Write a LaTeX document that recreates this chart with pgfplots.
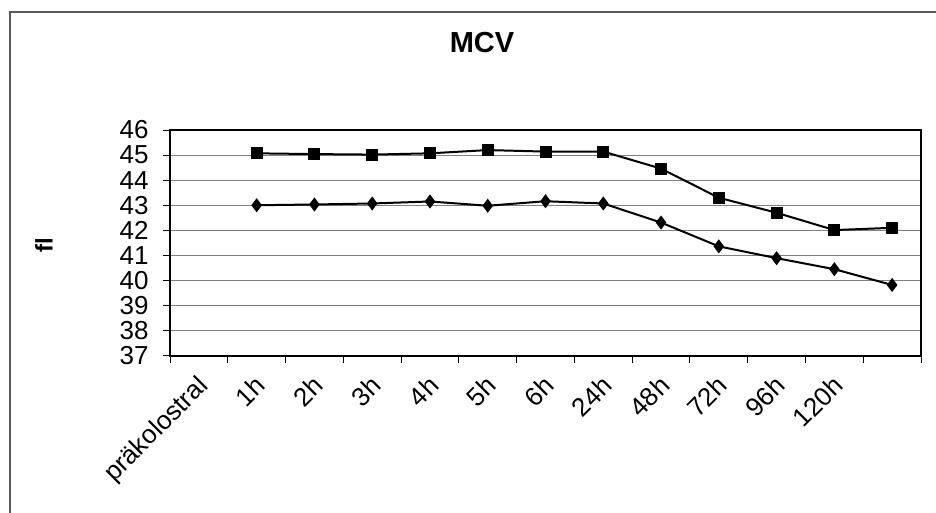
\documentclass[border=0pt]{standalone}
\usepackage{pgfplots}
\pgfplotsset{compat=1.18}
\usepackage{fontspec}
\setmainfont{Liberation Sans}

\begin{document}
\begin{tikzpicture}
\useasboundingbox (0pt,0pt) rectangle (468pt,-256.5pt);
% outer chart frame (cut off at right and bottom)
\draw[line width=1pt, color=black!65] (5pt,-257pt) -- (5pt,-6pt) -- (469pt,-6pt);
\node[font=\bfseries\fontsize{14.5}{16}\selectfont] at (241pt,-21.5pt) {MCV};
\node[font=\bfseries\fontsize{12}{13}\selectfont, rotate=90] at (22pt,-122.5pt) {fl};
\begin{axis}[
    at={(85pt,-177.85pt)}, anchor=south west,
    scale only axis,
    width=375.5pt, height=112.85pt,
    xmin=-0.5, xmax=12.5,
    ymin=37, ymax=46,
    ytick={37,...,46},
    xtick={0,...,11},
    xticklabels={präkolostral,1h,2h,3h,4h,5h,6h,24h,48h,72h,96h,120h},
    minor xtick={-0.5,0.5,...,12.5},
    major x tick style={draw=none},
    minor x tick style={black, line width=0.5pt},
    major y tick style={black, line width=0.5pt},
    tick align=outside, tick pos=left,
    major tick length=3.5pt, minor tick length=3.5pt,
    ymajorgrids,
    grid style={black!50, line width=0.5pt},
    axis line style={line width=1pt},
    /pgf/number format/assume math mode=true,
    yticklabel style={font=\fontsize{13}{14}\selectfont, anchor=east, inner sep=0pt, xshift=-7pt},
    xticklabel style={font=\fontsize{13}{14}\selectfont, inner sep=0pt,
        xshift=-1.5pt, yshift=-5.5pt, rotate=45, anchor=north east},
]
\addplot[black, line width=1pt, mark=square*, mark size=2.5pt] coordinates {
    (1,45.07) (2,45.04) (3,45.02) (4,45.07) (5,45.20) (6,45.14)
    (7,45.14) (8,44.46) (9,43.30) (10,42.70) (11,42.01) (12,42.10)
};
\addplot[black, line width=1pt, mark=diamond*, mark size=2.7pt] coordinates {
    (1,43.00) (2,43.03) (3,43.07) (4,43.15) (5,42.98) (6,43.16)
    (7,43.07) (8,42.31) (9,41.36) (10,40.89) (11,40.45) (12,39.82)
};
\end{axis}
\end{tikzpicture}
\end{document}
